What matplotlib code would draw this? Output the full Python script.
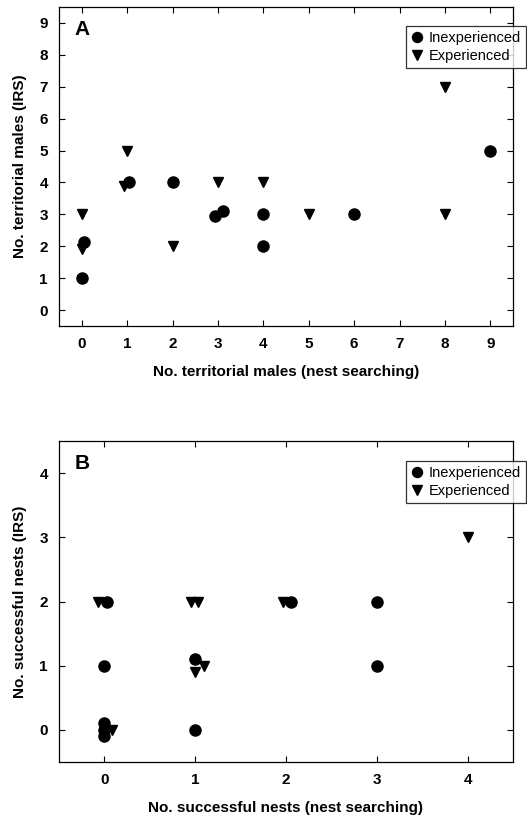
import matplotlib
matplotlib.use("Agg")
import matplotlib.pyplot as plt

plt.rcParams['font.family'] = ['Liberation Sans', 'DejaVu Sans']

# Panel A data
a_inexp_x = [0, 0.05, 1.05, 2, 2.94, 3.12, 4, 4, 6, 9]
a_inexp_y = [1, 2.13, 4.0, 4, 2.95, 3.1, 3, 2, 3, 5]
a_exp_x = [0, 0, 1, 0.93, 2, 3, 4, 5, 8, 8]
a_exp_y = [3, 1.9, 5, 3.9, 2, 4, 4, 3, 7, 3]

# Panel B data
b_inexp_x = [0.03, 0, 0, 0, 0, 1, 1, 2.05, 3, 3]
b_inexp_y = [2, 1, 0.1, 0, -0.1, 1.1, 0, 2, 2, 1]
b_exp_x = [-0.07, 0.95, 1.03, 1.1, 1.0, 1.97, 0.08, 4]
b_exp_y = [2, 2, 2, 1, 0.9, 2, 0, 3]

a_xticks = list(range(0, 10))
a_yticks = list(range(0, 10))
b_xticks = list(range(0, 5))
b_yticks = list(range(0, 5))

fig = plt.figure(figsize=(5.27, 8.17), dpi=100)
W, H = 527, 817

def make_ax(l, r, t, b):
    return fig.add_axes([l / W, 1 - b / H, (r - l) / W, (b - t) / H])

axA = make_ax(59, 513, 7, 326)
axB = make_ax(59, 513, 441, 762)

def style(ax, xt, yt, xlim, ylim, xlabel, ylabel, letter):
    ax.set_xlim(*xlim)
    ax.set_ylim(*ylim)
    ax.set_xticks(xt)
    ax.set_yticks(yt)
    ax.tick_params(direction='in', top=True, right=True, length=4, width=0.8,
                   labelsize=11, pad=8)
    for lbl in ax.get_xticklabels() + ax.get_yticklabels():
        lbl.set_fontweight('bold')
    for s in ax.spines.values():
        s.set_linewidth(0.9)
    ax.set_xlabel(xlabel, fontsize=11, fontweight='bold', labelpad=10)
    ax.set_ylabel(ylabel, fontsize=11, fontweight='bold', labelpad=9)
    ax.text(0.035, 0.93, letter, transform=ax.transAxes, fontsize=15,
            fontweight='bold', va='center', ha='left')

csz = 8
tsz = 7.5
axA.plot(a_inexp_x, a_inexp_y, 'o', color='black', ms=csz, label='Inexperienced', clip_on=False)
axA.plot(a_exp_x, a_exp_y, 'v', color='black', ms=tsz, label='Experienced', clip_on=False)
style(axA, a_xticks, a_yticks, (-0.5, 9.5), (-0.5, 9.5),
      'No. territorial males (nest searching)', 'No. territorial males (IRS)', 'A')

axB.plot(b_inexp_x, b_inexp_y, 'o', color='black', ms=csz, label='Inexperienced', clip_on=False)
axB.plot(b_exp_x, b_exp_y, 'v', color='black', ms=tsz, label='Experienced', clip_on=False)
style(axB, b_xticks, b_yticks, (-0.5, 4.5), (-0.5, 4.5),
      'No. successful nests (nest searching)', 'No. successful nests (IRS)', 'B')

for ax, top in ((axA, 26), (axB, 461)):
    leg = ax.legend(loc='upper right', bbox_to_anchor=(526 / W, 1 - top / H),
                    bbox_transform=fig.transFigure, frameon=True, fancybox=False,
                    edgecolor='black', fontsize=10.5, handlelength=0.8,
                    handletextpad=0.4, borderpad=0.35, labelspacing=0.25,
                    borderaxespad=0, markerscale=0.9)
    leg.get_frame().set_linewidth(0.9)

fig.savefig('out.png', dpi=100)
